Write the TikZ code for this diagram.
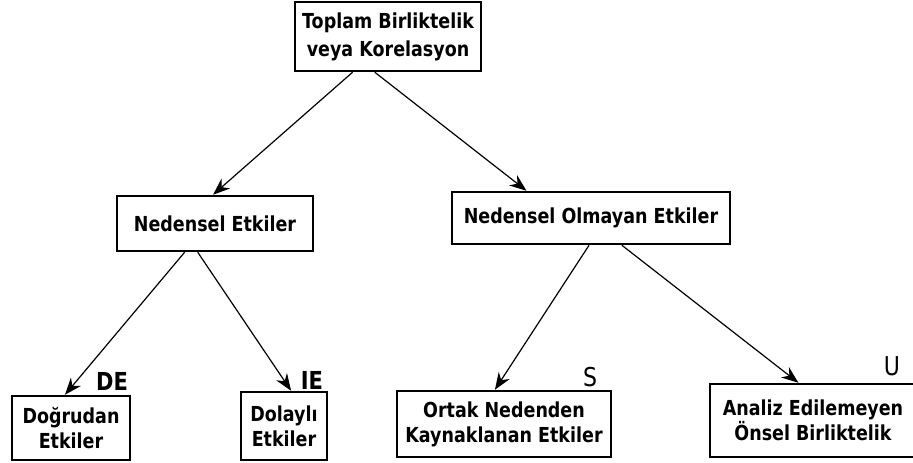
\documentclass[tikz,border=0pt]{standalone}
\usepackage{fontspec}
\setmainfont{DejaVu Sans}
\usetikzlibrary{arrows.meta,calc}
\newcommand{\tallt}[1]{\scalebox{1}[1.18]{#1}}
\tikzset{
  box/.style={draw=black,line width=2.5pt,inner sep=0pt,align=center,font=\bfseries\fontsize{17.5}{25}\selectfont},
  conn/.style={line width=1.2pt,-{Stealth[length=17pt,width=13pt]}},
  lbl/.style={inner sep=0pt,font=\bfseries\fontsize{21}{24}\selectfont},
  lbllight/.style={inner sep=0pt,font=\fontsize{22}{24}\selectfont}
}
\begin{document}
\begin{tikzpicture}[x=1pt,y=-1pt]
\useasboundingbox[fill=white] (0,0) rectangle (913,463);
\node[box,minimum width=186pt,minimum height=69pt,font=\bfseries\fontsize{17.5}{28}\selectfont] (top) at (388,36.5) {\tallt{Toplam Birliktelik}\\\tallt{veya Korelasyon}};
\node[box,minimum width=196pt,minimum height=55pt] (ne) at (215,223.5) {\tallt{Nedensel Etkiler}};
\node[box,minimum width=278pt,minimum height=52pt] (no) at (591,218) {\tallt{Nedensel Olmayan Etkiler}};
\node[box,minimum width=118pt,minimum height=64pt] (dog) at (71,428) {\tallt{Doğrudan}\\\tallt{Etkiler}};
\node[box,minimum width=86pt,minimum height=68pt] (dol) at (284,426) {\tallt{Dolaylı}\\\tallt{Etkiler}};
\node[box,minimum width=214pt,minimum height=66pt] (ort) at (504,424) {\tallt{Ortak Nedenden}\\\tallt{Kaynaklanan Etkiler}};
\node[box,minimum width=206pt,minimum height=73pt] (ana) at (813,420.5) {\tallt{Analiz Edilemeyen}\\\tallt{Önsel Birliktelik}};
\node[lbl] (de) at (112,381) {\tallt{DE}};
\node[lbl] (ie) at (312,380) {\tallt{IE}};
\node[lbllight] (s) at (590,377) {\tallt{S}};
\node[lbllight] (u) at (892,366) {\tallt{U}};
\draw[conn] ($(top.south west)!0.312!(top.south east)$) -- ($(ne.north west)!0.49!(ne.north east)$);
\draw[conn] ($(top.south west)!0.43!(top.south east)$) -- ($(no.north west)!0.27!(no.north east)$);
\draw[conn] ($(ne.south west)!0.347!(ne.south east)$) -- ($(dog.north west)!0.45!(dog.north east)$);
\draw[conn] ($(ne.south west)!0.413!(ne.south east)$) -- ($(dol.north west)!0.58!(dol.north east)$);
\draw[conn] ($(no.south west)!0.493!(no.south east)$) -- ($(ort.north west)!0.458!(ort.north east)$);
\draw[conn] ($(no.south west)!0.61!(no.south east)$) -- ($(ana.north west)!0.43!(ana.north east)$);
\end{tikzpicture}
\end{document}
